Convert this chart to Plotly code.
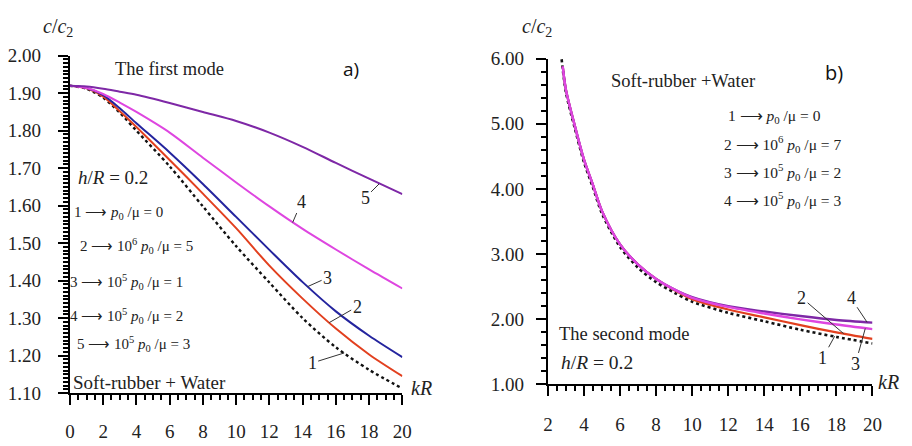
import plotly.graph_objects as go

# ---------------- data: panel a) (first mode) ----------------
kR_a = [0, 1, 2, 3, 4, 6, 8, 10, 12, 14, 16, 18, 20]
a_curve1 = [1.920, 1.912, 1.888, 1.848, 1.800, 1.705, 1.598, 1.492, 1.395, 1.300, 1.222, 1.162, 1.112]
a_curve2 = [1.920, 1.913, 1.891, 1.852, 1.810, 1.722, 1.632, 1.540, 1.440, 1.352, 1.272, 1.203, 1.145]
a_curve3 = [1.920, 1.914, 1.895, 1.860, 1.820, 1.742, 1.658, 1.570, 1.482, 1.396, 1.318, 1.253, 1.196]
a_curve4 = [1.920, 1.914, 1.898, 1.875, 1.850, 1.795, 1.728, 1.662, 1.598, 1.538, 1.483, 1.430, 1.379]
a_curve5 = [1.920, 1.918, 1.912, 1.904, 1.896, 1.874, 1.850, 1.826, 1.795, 1.757, 1.714, 1.672, 1.631]

# ---------------- data: panel b) (second mode) ----------------
kR_b = [2.82, 3.0, 3.5, 4.0, 4.5, 5.0, 6.0, 7.0, 8.0, 9.0, 10.0, 12.0, 14.0, 16.0, 18.0, 20.0]
kR_b1 = [2.76, 3.0, 3.5, 4.0, 4.5, 5.0, 6.0, 7.0, 8.0, 9.0, 10.0, 12.0, 14.0, 16.0, 18.0, 20.0]
b_curve1 = [5.99, 5.48, 4.92, 4.41, 4.02, 3.62, 3.11, 2.79, 2.57, 2.41, 2.27, 2.10, 1.97, 1.84, 1.73, 1.63]
b_curve2 = [5.88, 5.52, 4.96, 4.45, 4.06, 3.66, 3.15, 2.84, 2.62, 2.45, 2.31, 2.15, 2.03, 1.91, 1.80, 1.70]
b_curve3 = [5.88, 5.52, 4.96, 4.45, 4.06, 3.66, 3.15, 2.84, 2.62, 2.46, 2.33, 2.19, 2.09, 2.00, 1.92, 1.85]
b_curve4 = [5.88, 5.52, 4.96, 4.45, 4.06, 3.66, 3.15, 2.84, 2.62, 2.46, 2.34, 2.20, 2.12, 2.05, 1.99, 1.95]

legend_a = ["1 ⟶ <i>p</i><sub>0</sub> /μ = 0",
            "2 ⟶ 10<sup>6</sup> <i>p</i><sub>0</sub> /μ = 5",
            "3 ⟶ 10<sup>5</sup> <i>p</i><sub>0</sub> /μ = 1",
            "4 ⟶ 10<sup>5</sup> <i>p</i><sub>0</sub> /μ = 2",
            "5 ⟶ 10<sup>5</sup> <i>p</i><sub>0</sub> /μ = 3"]
legend_b = ["1 ⟶ <i>p</i><sub>0</sub> /μ = 0",
            "2 ⟶ 10<sup>6</sup> <i>p</i><sub>0</sub> /μ = 7",
            "3 ⟶ 10<sup>5</sup> <i>p</i><sub>0</sub> /μ = 2",
            "4 ⟶ 10<sup>5</sup> <i>p</i><sub>0</sub> /μ = 3"]

BLACK = "#111111"
RED = "#E2401F"
BLUE = "#24249E"
MAGENTA = "#DE46E0"
VIOLET = "#7E28A6"

W, H = 912, 446
SERIF = "Liberation Serif"

fig = go.Figure()

def add(x, y, color, dash, width, xa, ya):
    fig.add_trace(go.Scatter(x=x, y=y, mode="lines", xaxis=xa, yaxis=ya,
                             line=dict(color=color, dash=dash, width=width, shape="spline", smoothing=0.8),
                             showlegend=False, hoverinfo="skip"))

add(kR_a, a_curve1, BLACK, "dot", 2.4, "x", "y")
add(kR_a, a_curve2, RED, "solid", 2, "x", "y")
add(kR_a, a_curve3, BLUE, "solid", 2, "x", "y")
add(kR_a, a_curve4, MAGENTA, "solid", 2, "x", "y")
add(kR_a, a_curve5, VIOLET, "solid", 2, "x", "y")

add(kR_b1, b_curve1, BLACK, "dot", 2.6, "x2", "y2")
add(kR_b, b_curve2, RED, "solid", 2.2, "x2", "y2")
add(kR_b, b_curve4, VIOLET, "solid", 2.4, "x2", "y2")
add(kR_b, b_curve3, MAGENTA, "solid", 2.4, "x2", "y2")

def px(x):
    return x / W

def py(y):
    return 1 - y / H

tickfont = dict(family=SERIF, size=19, color="#222222")
common_axis = dict(showline=True, linecolor="black", linewidth=2, showgrid=False, zeroline=False,
                   ticks="outside", ticklen=10, tickwidth=2, tickcolor="black", tickfont=tickfont)
minor_style = dict(ticks="outside", ticklen=5, tickwidth=1.5, tickcolor="black")

fig.update_layout(
    width=W, height=H, margin=dict(l=0, r=0, t=0, b=0),
    paper_bgcolor="white", plot_bgcolor="white",
    xaxis=dict(domain=[px(66), px(404)], range=[0, 20], anchor="y", dtick=2, tick0=0,
               minor=dict(dtick=0.5, **minor_style), ticklabelstandoff=10, **common_axis),
    yaxis=dict(domain=[py(402), py(48)], range=[1.10, 2.00], anchor="x", dtick=0.1, tick0=1.1,
               tickformat=".2f", minor=dict(dtick=0.01, **minor_style),
               ticklabelstandoff=13, **common_axis),
    xaxis2=dict(domain=[px(552), px(882)], range=[2, 20], anchor="y2", dtick=2, tick0=0,
                minor=dict(dtick=0.5, **minor_style), ticklabelstandoff=12, **common_axis),
    yaxis2=dict(domain=[py(393), py(51)], range=[1.0, 6.0], anchor="x2", dtick=1, tick0=1,
                tickformat=".2f", minor=dict(dtick=0.2, **minor_style),
                ticklabelstandoff=8, **common_axis),
)

def text(x, y, s, size, family=SERIF, xanchor="left", color="#222222"):
    fig.add_annotation(x=px(x), y=py(y), xref="paper", yref="paper", text=s, showarrow=False,
                       xanchor=xanchor, yanchor="middle", font=dict(family=family, size=size, color=color))

# panel a texts
text(37, 18, "<i>c</i>/<i>c</i><sub>2</sub>", 20)
text(110, 62, "The first mode", 18.5)
text(342, 62, "a)", 19, family="Open Sans", color="#111111")
text(72, 176, "<i>h</i>/<i>R</i> = 0.2", 19)
leg_a_pos = [(68, 213), (74, 248), (64, 285), (64, 321), (71, 350)]
for (lx, ly), s in zip(leg_a_pos, legend_a):
    text(lx, ly, s, 15)
text(67, 391, "Soft-rubber + Water", 19)
text(411, 397, "<i>kR</i>", 20)

# panel b texts
text(524, 18, "<i>c</i>/<i>c</i><sub>2</sub>", 20)
text(614, 74, "Soft-rubber +Water", 18.5)
text(832, 66, "b)", 20, family="Open Sans", color="#111111")
leg_b_pos = [(733, 112), (729, 141), (729, 170), (729, 199)]
for (lx, ly), s in zip(leg_b_pos, legend_b):
    text(lx, ly, s, 15.5)
text(561, 340, "The second mode", 18.5)
text(563, 370, "<i>h</i>/<i>R</i> = 0.2", 19.5)
text(886, 390, "<i>kR</i>", 20)

# curve labels with leader lines
def label(xa, ya, x, y, s, ax, ay):
    fig.add_annotation(x=x, y=y, xref=xa, yref=ya, text=s, showarrow=True, arrowhead=0,
                       arrowwidth=1, arrowcolor="#333333", ax=ax, ay=ay, standoff=0,
                       font=dict(family=SERIF, size=18, color="#222222"))

label("x", "y", 18.6, 1.658, "5", -14, 14)
label("x", "y", 13.4, 1.555, "4", 9, -21)
label("x", "y", 14.3, 1.384, "3", 20, -9)
label("x", "y", 15.6, 1.288, "2", 28, -16)
label("x", "y", 16.5, 1.207, "1", -32, 10)

label("x2", "y2", 18.4, 1.78, "2", -42, -36)
label("x2", "y2", 19.7, 1.955, "4", -16, -24)
label("x2", "y2", 17.9, 1.74, "1", -12, 22)
label("x2", "y2", 19.6, 1.86, "3", -10, 36)

fig.write_html("out.html")
